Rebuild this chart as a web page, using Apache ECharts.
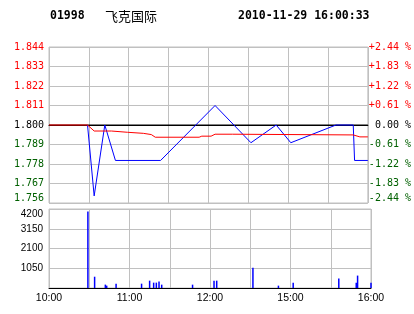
<!DOCTYPE html>
<html><head><meta charset="utf-8">
<script src="https://cdn.jsdelivr.net/npm/echarts@6/dist/echarts.min.js"></script>
<style>html,body{margin:0;padding:0;background:#fff}#c{width:414px;height:314px}</style>
</head><body><div id="c"></div>
<script>
const stockCode = '01998';
const stockName = '飞克国际';
const stamp = '2010-11-29 16:00:33';
const prevClose = 1.800;
const priceTicks = ['1.756','1.767','1.778','1.789','1.800','1.811','1.822','1.833','1.844'];
const pctTicks = ['-2.44 %','-1.83 %','-1.22 %','-0.61 %',' 0.00 %','+0.61 %','+1.22 %','+1.83 %','+2.44 %'];
const volTicks = ['', '1050', '2100', '3150', '4200'];
const timeLabels = ['10:00','','11:00','','12:00','','15:00','','16:00'];

// minutes since open -> price
const priceMinutes = [29, 34, 42, 43, 50, 84, 125, 152, 171, 182, 216, 229, 230, 240];
const priceValues  = [1.800, 1.760, 1.800, 1.800, 1.780, 1.780, 1.811, 1.790, 1.800, 1.790, 1.800, 1.800, 1.780, 1.780];

const avgMinutes = [0, 29, 34, 47, 59, 71, 77, 80, 113, 115, 122, 125, 138, 139, 229, 234, 240];
const avgValues  = [1.800, 1.800, 1.7966, 1.7966, 1.7959, 1.7953, 1.7946, 1.7931, 1.7931, 1.7937, 1.7937, 1.7948, 1.7948, 1.7944, 1.7944, 1.7933, 1.7933];

const volMinutes = [29, 34, 42, 43, 50, 69, 75, 78, 80, 82, 84, 107, 123, 125, 152, 171, 182, 216, 229, 230, 240];
const volValues  = [4070, 600, 180, 125, 230, 230, 390, 285, 285, 340, 178, 178, 390, 390, 1080, 125, 285, 500, 285, 660, 285];

const zip = (a, b) => a.map((v, i) => [v, b[i]]);
const GREEN = '#006000', RED = '#ff0000';
const monoFont = 'DejaVu Sans Mono';
const sansFont = 'Liberation Sans';

const chart = echarts.init(document.getElementById('c'), null, {renderer: 'canvas'});
chart.setOption({
  animation: false,
  backgroundColor: '#fff',
  graphic: [
    {type: 'text', style: {x: 50, y: 16, text: stockCode, font: 'bold 11.5px "DejaVu Sans Mono"', fill: '#000', verticalAlign: 'middle'}},
    {type: 'text', style: {x: 105, y: 16, text: stockName, font: '13px "Noto Sans CJK SC"', fill: '#000', verticalAlign: 'middle'}},
    {type: 'text', style: {x: 238, y: 16, text: stamp, font: 'bold 11.5px "DejaVu Sans Mono"', fill: '#000', verticalAlign: 'middle'}}
  ],
  grid: [
    {left: 49, right: 43, top: 47, bottom: 111, show: true, borderColor: '#c0c0c0', borderWidth: 1},
    {left: 49, right: 43, top: 209, bottom: 26, show: true, borderColor: '#c0c0c0', borderWidth: 1}
  ],
  xAxis: [
    {gridIndex: 0, type: 'value', min: 0, max: 240, interval: 30,
     axisLabel: {show: false}, axisTick: {show: false},
     axisLine: {show: true, lineStyle: {color: '#000', width: 1}},
     splitLine: {show: true, lineStyle: {color: '#c0c0c0', width: 1}}},
    {gridIndex: 1, type: 'value', min: 0, max: 240, interval: 30,
     axisTick: {show: false},
     axisLine: {show: true, lineStyle: {color: '#000', width: 1}},
     splitLine: {show: true, lineStyle: {color: '#c0c0c0', width: 1}},
     axisLabel: {show: true, margin: 5, fontSize: 10.5, fontFamily: sansFont, color: '#000',
       formatter: (v) => timeLabels[Math.round(v / 30)] || ''}}
  ],
  yAxis: [
    {gridIndex: 0, type: 'value', min: 1.756, max: 1.844, interval: 0.011,
     axisLine: {show: false}, axisTick: {show: false},
     splitLine: {show: true, lineStyle: {color: '#c0c0c0', width: 1}},
     axisLabel: {margin: 5, fontSize: 10, fontFamily: monoFont, verticalAlignMinLabel: 'bottom',
       formatter: (v) => priceTicks[Math.round((v - 1.756) / 0.011)],
       color: (v) => { const d = parseFloat(v) - prevClose; return Math.abs(d) < 1e-6 ? '#000' : (d > 0 ? RED : GREEN); }}},
    {gridIndex: 0, type: 'value', position: 'right', min: -2.44, max: 2.44, interval: 0.61,
     axisLine: {show: false}, axisTick: {show: false}, splitLine: {show: false},
     axisLabel: {margin: 1, fontSize: 10, fontFamily: monoFont, verticalAlignMinLabel: 'bottom',
       formatter: (v) => pctTicks[Math.round((v + 2.44) / 0.61)],
       color: (v) => { const d = parseFloat(v); return Math.abs(d) < 1e-6 ? '#000' : (d > 0 ? RED : GREEN); }}},
    {gridIndex: 1, type: 'value', min: 0, max: 4200, interval: 1050,
     axisLine: {show: false}, axisTick: {show: false},
     splitLine: {show: true, lineStyle: {color: '#c0c0c0', width: 1}},
     axisLabel: {margin: 6, fontSize: 10, fontFamily: sansFont, color: '#000', verticalAlignMaxLabel: 'top',
       formatter: (v) => volTicks[Math.round(v / 1050)]}}
  ],
  series: [
    {type: 'line', xAxisIndex: 0, yAxisIndex: 0, z: 1, silent: true, showSymbol: false,
     lineStyle: {color: '#000', width: 1}, data: [[0, prevClose], [240, prevClose]]},
    {type: 'line', xAxisIndex: 0, yAxisIndex: 0, z: 2, showSymbol: false,
     lineStyle: {color: '#0000ff', width: 1}, data: zip(priceMinutes, priceValues)},
    {type: 'line', xAxisIndex: 0, yAxisIndex: 0, z: 3, showSymbol: false,
     lineStyle: {color: RED, width: 1}, data: zip(avgMinutes, avgValues)},
    {type: 'bar', xAxisIndex: 1, yAxisIndex: 2, barWidth: 1.5, itemStyle: {color: '#0000ff'},
     data: zip(volMinutes, volValues)}
  ]
});
</script></body></html>
